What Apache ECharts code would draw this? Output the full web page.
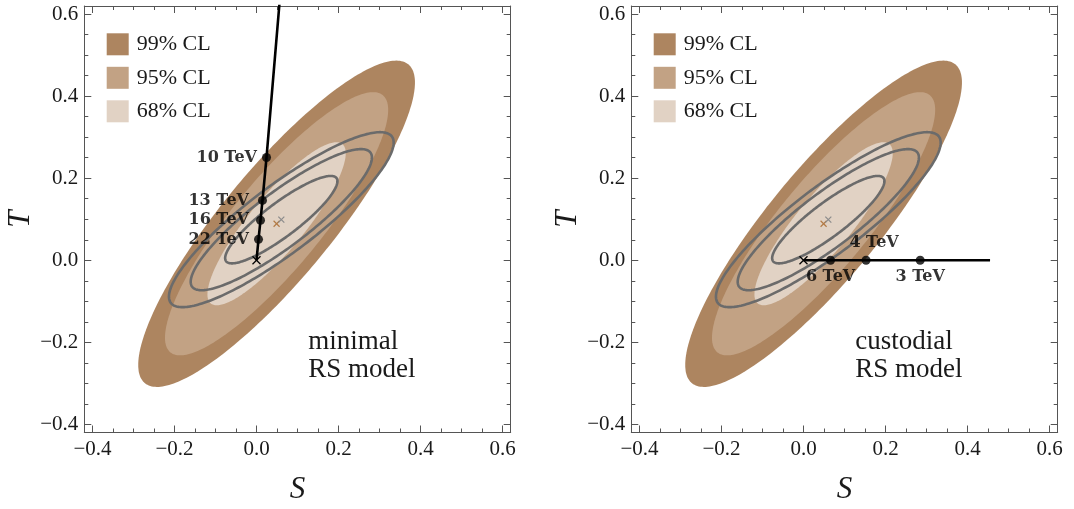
<!DOCTYPE html>
<html>
<head>
<meta charset="utf-8">
<script src="https://cdn.jsdelivr.net/npm/echarts@6/dist/echarts.min.js"></script>
<style>
  html, body { margin: 0; padding: 0; background: #fff; }
  #chart { width: 1074px; height: 509px; }
</style>
</head>
<body>
<div id="chart"></div>
<script>
// Oblique parameters S and T: electroweak fit ellipses and RS model predictions

// confidence levels (Δχ² for two degrees of freedom)
const clNames = ['99% CL', '95% CL', '68% CL'];
const clChi2 = [9.21, 5.99, 2.30];
const clColors = ['#ad8560', '#c2a284', '#e1d2c4'];

// filled fit: centre (S, T), widths (σS, σT), correlation
const fitCenter = [0.049, 0.089];
const fitSigma = [0.1112, 0.1311];
const fitRho = 0.865;

// outlined fit
const altCenter = [0.0605, 0.099];
const altSigma = [0.0903, 0.0703];
const altRho = 0.88;

// reference point (S, T) = (0, 0)
const refPoint = [0, 0];

// minimal RS model: KK scale and (S, T)
const minimalLabels = ['22 TeV', '16 TeV', '13 TeV', '10 TeV'];
const minimalS = [0.0049, 0.0098, 0.0146, 0.0244];
const minimalT = [0.051, 0.0976, 0.146, 0.2505];
const minimalEnd = [0.058, 0.65];

// custodial RS model: KK scale and (S, T)
const custodialLabels = ['6 TeV', '4 TeV', '3 TeV'];
const custodialS = [0.066, 0.1526, 0.2846];
const custodialT = [0, 0, 0];
const custodialEnd = [0.455, 0];

// axes
const axisMin = -0.42, axisMax = 0.62;
const majorTicks = [-0.4, -0.2, 0, 0.2, 0.4, 0.6];
const minorTicks = [-0.35, -0.3, -0.25, -0.15, -0.1, -0.05, 0.05, 0.1, 0.15,
                    0.25, 0.3, 0.35, 0.45, 0.5, 0.55];

const SERIF = '"Liberation Serif", "Times New Roman", serif';
const BOLD_SERIF = '"DejaVu Serif", serif';
const frameColor = '#555';

const panels = [
  { left: 84.3, top: 6, text: 'minimal\nRS model' },
  { left: 631.3, top: 6, text: 'custodial\nRS model' }
];
const PW = 426.4, PH = 426.5;

const fmt = v => (v < 0 ? '\u2212' : '') + Math.abs(v).toFixed(1);

function ellipsePoints(center, sigma, rho, chi2, api) {
  const k = Math.sqrt(chi2), r = Math.sqrt(1 - rho * rho), pts = [];
  for (let i = 0; i <= 240; i++) {
    const a = i / 240 * 2 * Math.PI;
    const s = center[0] + k * sigma[0] * Math.cos(a);
    const t = center[1] + k * sigma[1] * (rho * Math.cos(a) + r * Math.sin(a));
    pts.push(api.coord([s, t]));
  }
  return pts;
}

function crossItem(color, half, width) {
  return function (params, api) {
    const c = api.coord([api.value(0), api.value(1)]);
    const st = { stroke: color, lineWidth: width };
    return {
      type: 'group',
      children: [
        { type: 'line', shape: { x1: c[0] - half, y1: c[1] - half, x2: c[0] + half, y2: c[1] + half }, style: st },
        { type: 'line', shape: { x1: c[0] - half, y1: c[1] + half, x2: c[0] + half, y2: c[1] - half }, style: st }
      ]
    };
  };
}

const grid = [], xAxis = [], yAxis = [], series = [], legend = [], graphic = [];

panels.forEach((p, gi) => {
  grid.push({ left: p.left, top: p.top, width: PW, height: PH, outerBoundsMode: 'none', containLabel: false });

  const base = { gridIndex: gi, type: 'value', min: axisMin, max: axisMax, splitLine: { show: false } };
  const lineOn = { show: true, onZero: false, lineStyle: { color: frameColor, width: 1 } };
  const lineOff = { show: false, onZero: false };
  const major = { show: true, inside: true, length: 7, customValues: majorTicks, lineStyle: { color: frameColor, width: 1 } };
  const minor = { show: true, inside: true, length: 4, customValues: minorTicks, lineStyle: { color: frameColor, width: 1 } };
  const label = { show: true, customValues: majorTicks, formatter: fmt, fontFamily: SERIF, fontSize: 21, color: '#1a1a1a', margin: 6 };
  const noLabel = { show: false };
  const nameStyle = { fontFamily: SERIF, fontStyle: 'italic', fontSize: 31, color: '#1a1a1a' };

  xAxis.push(Object.assign({}, base, { position: 'bottom', axisLine: lineOn, axisTick: major, axisLabel: label,
    name: 'S', nameLocation: 'middle', nameGap: 42, nameTextStyle: nameStyle }));
  xAxis.push(Object.assign({}, base, { position: 'bottom', axisLine: lineOff, axisTick: minor, axisLabel: noLabel }));
  xAxis.push(Object.assign({}, base, { position: 'top', axisLine: lineOn, axisTick: major, axisLabel: noLabel }));
  xAxis.push(Object.assign({}, base, { position: 'top', axisLine: lineOff, axisTick: minor, axisLabel: noLabel }));

  yAxis.push(Object.assign({}, base, { position: 'left', axisLine: lineOn, axisTick: major, axisLabel: label,
    name: 'T', nameLocation: 'middle', nameGap: 47, nameRotate: 90, nameTextStyle: nameStyle }));
  yAxis.push(Object.assign({}, base, { position: 'left', axisLine: lineOff, axisTick: minor, axisLabel: noLabel }));
  yAxis.push(Object.assign({}, base, { position: 'right', axisLine: lineOn, axisTick: major, axisLabel: noLabel }));
  yAxis.push(Object.assign({}, base, { position: 'right', axisLine: lineOff, axisTick: minor, axisLabel: noLabel }));

  const xi = gi * 4, yi = gi * 4;

  // filled confidence regions
  clNames.forEach((name, li) => {
    series.push({
      type: 'custom', name: name, xAxisIndex: xi, yAxisIndex: yi,
      itemStyle: { color: clColors[li] }, silent: true, z: 1,
      data: [[fitCenter[0], fitCenter[1], clChi2[li]]],
      renderItem: (params, api) => ({
        type: 'polygon',
        shape: { points: ellipsePoints(fitCenter, fitSigma, fitRho, api.value(2), api) },
        style: { fill: clColors[li] }
      })
    });
  });

  // outlined confidence contours
  series.push({
    type: 'custom', name: 'contours', xAxisIndex: xi, yAxisIndex: yi, silent: true, z: 2,
    data: clChi2.map(c => [altCenter[0], altCenter[1], c]),
    renderItem: (params, api) => ({
      type: 'polygon',
      shape: { points: ellipsePoints(altCenter, altSigma, altRho, api.value(2), api) },
      style: { fill: 'none', stroke: '#6b6b6b', lineWidth: 2.6 }
    })
  });

  // fit centres
  series.push({
    type: 'custom', name: 'fit centre', xAxisIndex: xi, yAxisIndex: yi, silent: true, z: 3,
    data: [fitCenter], renderItem: crossItem('#b27a45', 3, 1.2)
  });
  series.push({
    type: 'custom', name: 'alt centre', xAxisIndex: xi, yAxisIndex: yi, silent: true, z: 3,
    data: [altCenter], renderItem: crossItem('#8c8c8c', 3, 1.2)
  });

  // model trajectory
  const isMinimal = gi === 0;
  const ms = isMinimal ? minimalS : custodialS;
  const mt = isMinimal ? minimalT : custodialT;
  const ml = isMinimal ? minimalLabels : custodialLabels;
  const mEnd = isMinimal ? minimalEnd : custodialEnd;
  const path = [refPoint].concat(ms.map((s, i) => [s, mt[i]])).concat([mEnd]);

  series.push({
    type: 'line', name: isMinimal ? 'minimal RS' : 'custodial RS', xAxisIndex: xi, yAxisIndex: yi,
    data: path, showSymbol: false, symbol: 'none', clip: true, silent: true, z: 4,
    lineStyle: { color: '#000', width: 2.6 }
  });

  const labelBase = { show: true, fontFamily: BOLD_SERIF, fontWeight: 'bold', fontSize: 16, color: '#000' };
  const minimalLabelDist = [5, 7, 9, 5];
  const custodialLabelCfg = [
    { position: 'bottom', distance: 4 },
    { position: 'top', distance: 5, offset: [8, 0] },
    { position: 'bottom', distance: 4 }
  ];
  series.push({
    type: 'scatter', name: isMinimal ? 'minimal points' : 'custodial points', xAxisIndex: xi, yAxisIndex: yi,
    symbol: 'circle', symbolSize: 9, itemStyle: { color: '#000' }, silent: true, z: 5,
    data: ms.map((s, i) => ({
      value: [s, mt[i]],
      label: Object.assign({}, labelBase, { formatter: ml[i] },
        isMinimal ? { position: 'left', distance: minimalLabelDist[i] } : custodialLabelCfg[i])
    }))
  });

  // reference point
  series.push({
    type: 'custom', name: 'reference', xAxisIndex: xi, yAxisIndex: yi, silent: true, z: 6,
    data: [refPoint], renderItem: crossItem('#000', 4, 1.3)
  });

  legend.push({
    data: clNames, orient: 'vertical', left: p.left + 22.4, top: 33.3, padding: 0,
    icon: 'rect', itemWidth: 22, itemHeight: 22, itemGap: 11.5, selectedMode: false,
    textStyle: { fontFamily: SERIF, fontSize: 22, color: '#1a1a1a', padding: [0, 0, 0, 3] }
  });

  graphic.push({
    type: 'text', left: p.left + 224, top: 328, silent: true,
    style: { text: p.text, font: '27px ' + SERIF, fill: '#1a1a1a', lineHeight: 28 }
  });
});

const chart = echarts.init(document.getElementById('chart'), null, { renderer: 'canvas' });
chart.setOption({
  animation: false,
  backgroundColor: '#fff',
  grid, xAxis, yAxis, series, legend, graphic
});
</script>
</body>
</html>
